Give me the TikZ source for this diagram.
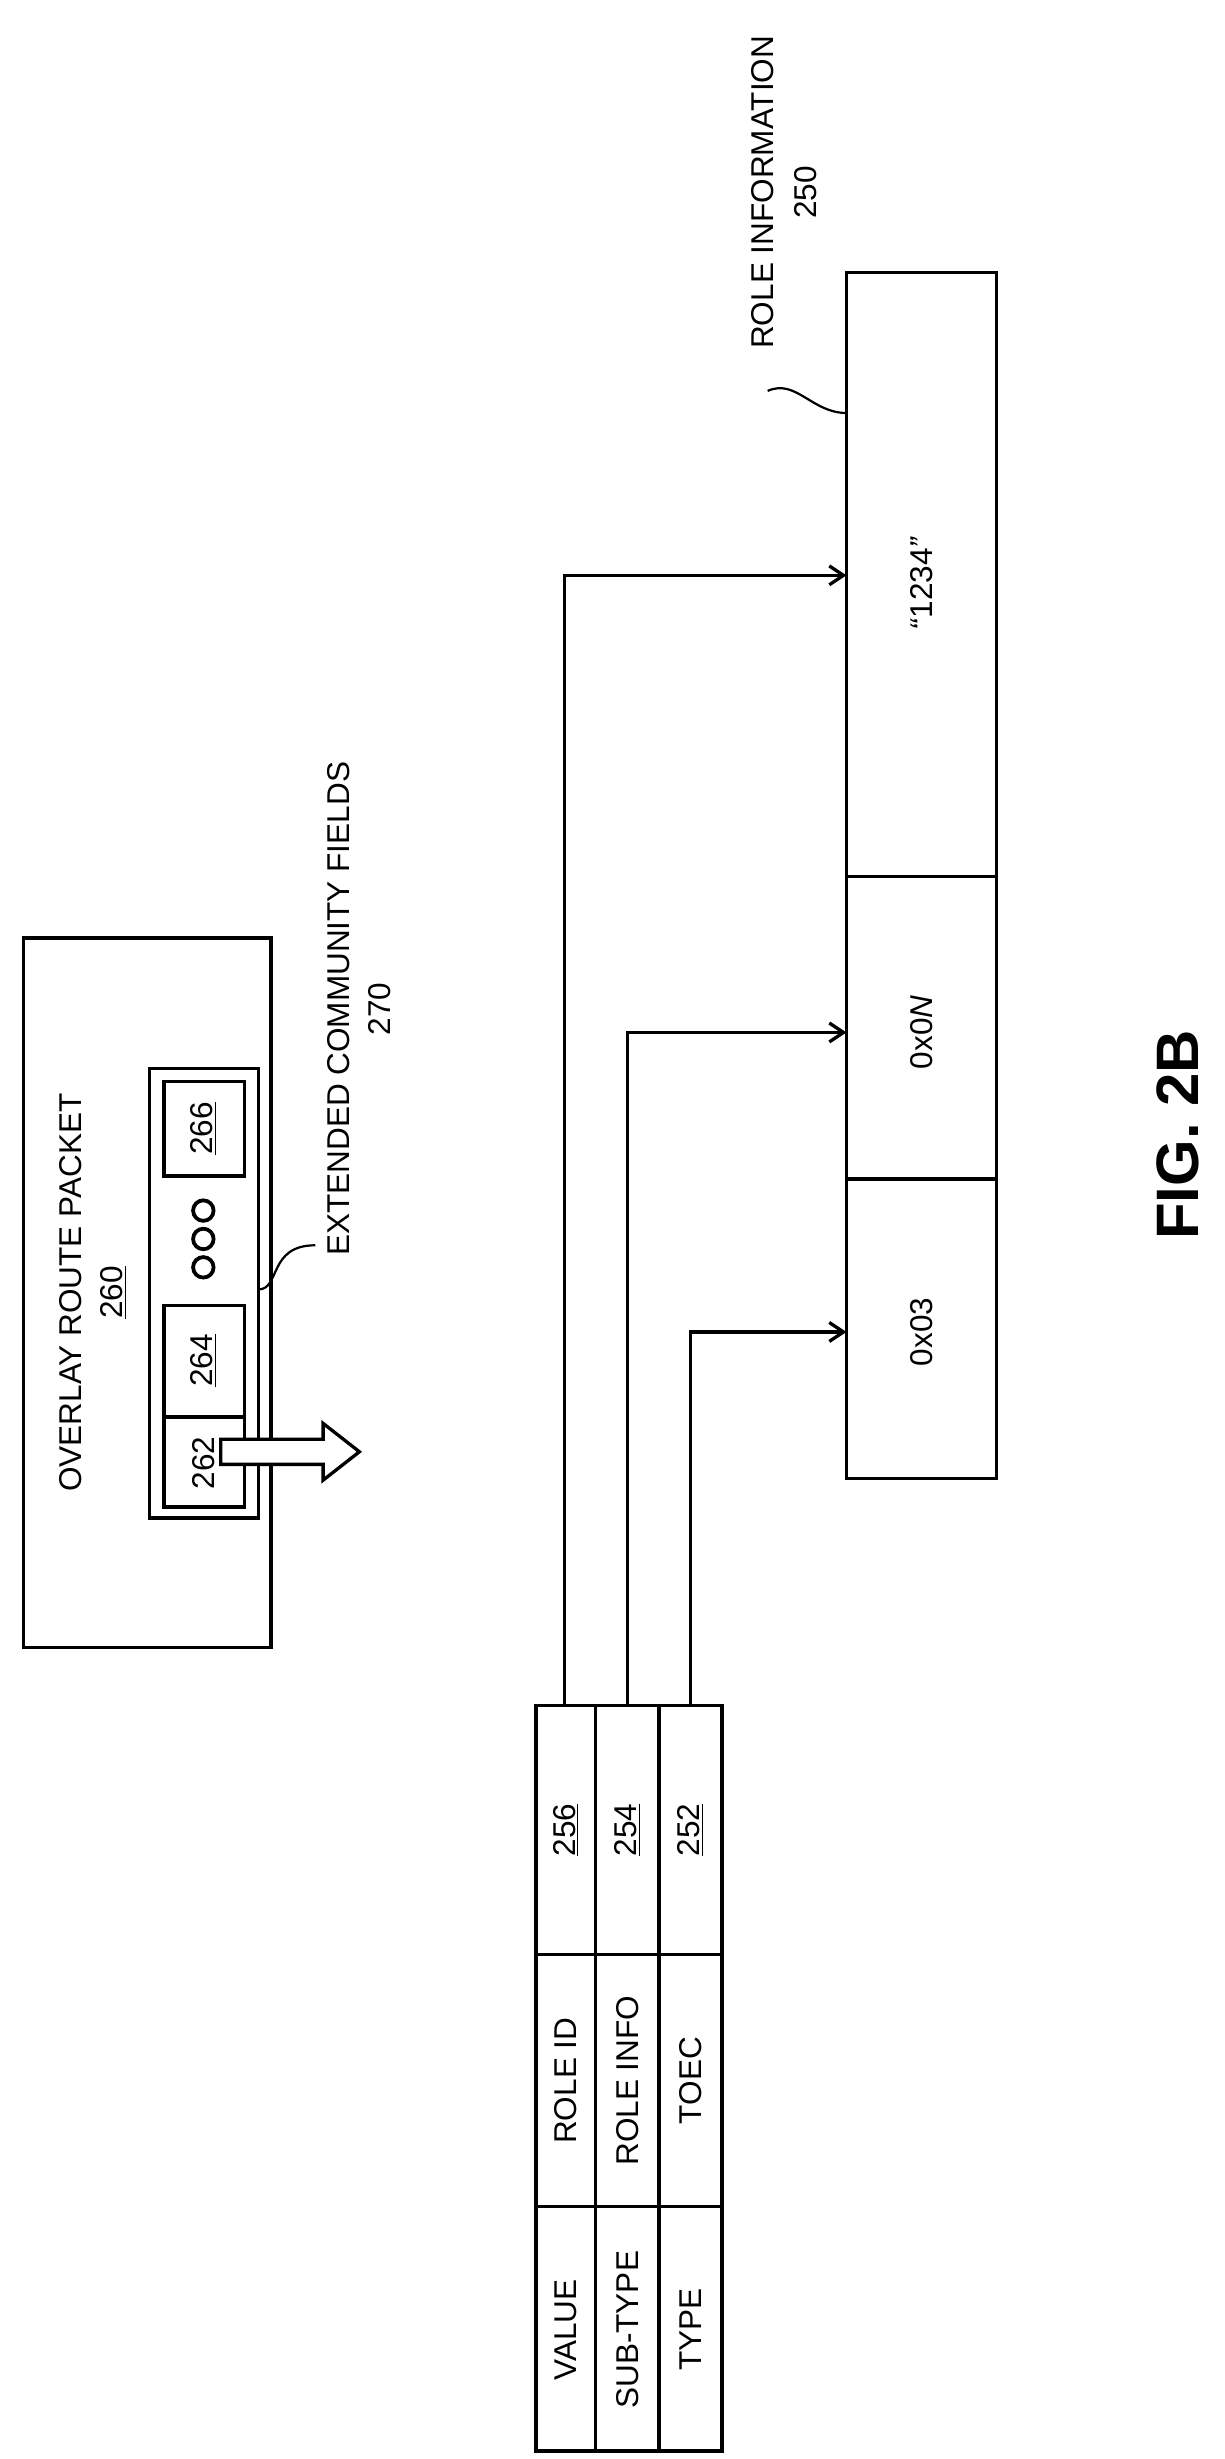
\documentclass[tikz,border=0pt]{standalone}
\usepackage{fontspec}
\setmainfont{Liberation Sans}
\usetikzlibrary{arrows.meta}
\begin{document}
\begin{tikzpicture}[x=1pt,y=-1pt,line width=2.1pt,
  lbl/.style={rotate=90,font=\fontsize{20}{22}\selectfont,inner sep=0pt},
  box/.style={draw,line width=2.1pt},
  arr/.style={-{Straight Barb[length=9pt,width=12pt]},line width=2.1pt}]
\useasboundingbox (0,0) rectangle (777,1560);
% overlay packet
\draw[box] (15,595) rectangle (172,1045);
\node[lbl] at (45,820) {OVERLAY ROUTE PACKET};
\node[lbl] at (72,820) {\underline{260}};
\draw[box] (95,678) rectangle (164,963);
\draw[box] (104,899) rectangle (155,956); \node[lbl] (b262) at (129,928) {262};
\draw[box] (104,828) rectangle (155,899); \node[lbl] (b264) at (129,863) {\underline{264}};
\draw[box] (104,686) rectangle (155,746); \node[lbl] (b266) at (129,716) {\underline{266}};
\foreach \y in {768,786,804} \draw[line width=2.4pt] (129,\y) circle (6.5);
% hollow arrow
\draw[line width=2.1pt,fill=white] (140,913)--(205,913)--(205,903)--(228,921)--(205,939)--(205,929)--(140,929)--cycle;
% extended community
\node[lbl] at (215,640) {EXTENDED COMMUNITY FIELDS};
\node[lbl] at (241,640) {270};
\draw[line width=1.4pt] (164,818) .. controls (178,818) and (170,790) .. (200,790);
% table
\draw[box] (340,1082) rectangle (458,1555);
\draw (378,1082)--(378,1555) (418,1082)--(418,1555) (340,1240)--(458,1240) (340,1400)--(458,1400);
\node[lbl] at (359,1478) {VALUE};
\node[lbl] at (359,1320) {ROLE ID};
\node[lbl] at (359,1161) {\underline{256}};
\node[lbl] at (398,1478) {SUB-TYPE};
\node[lbl] at (398,1320) {ROLE INFO};
\node[lbl] at (398,1161) {\underline{254}};
\node[lbl] at (438,1478) {TYPE};
\node[lbl] at (438,1320) {TOEC};
\node[lbl] at (438,1161) {\underline{252}};
% role info box
\draw[box] (537,173) rectangle (632,938);
\draw (537,556)--(632,556) (537,748)--(632,748);
\node[lbl] at (585,370) {\textit{“}1234\textit{”}};
\node[lbl] at (585,655) {0x0\textit{N}};
\node[lbl] at (585,845) {0x03};
\coordinate (s1) at (358,1082); \coordinate (e1) at (537,365);
\coordinate (s2) at (398,1082); \coordinate (e2) at (537,655);
\coordinate (s3) at (438,1082); \coordinate (e3) at (537,845);
\draw[arr] (s1) |- (e1);
\draw[arr] (s2) |- (e2);
\draw[arr] (s3) |- (e3);
\node[lbl] at (484,122) {ROLE INFORMATION};
\node[lbl] at (511,122) {250};
\draw[line width=1.4pt] (537,262) .. controls (515,262) and (505,240) .. (487,248);
\node[rotate=90,font=\bfseries\fontsize{38}{40}\selectfont,inner sep=0pt] at (747,720) {FIG. 2B};
\end{tikzpicture}
\end{document}
